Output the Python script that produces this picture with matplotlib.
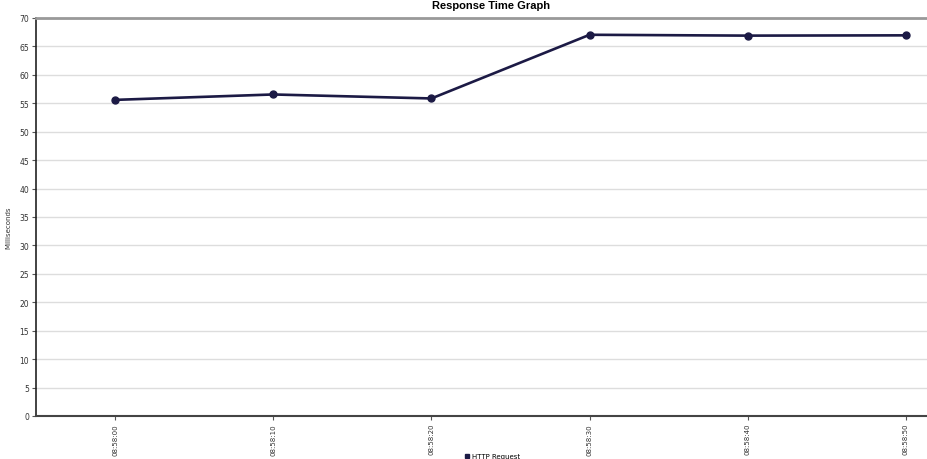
import matplotlib
matplotlib.use("Agg")
import matplotlib.pyplot as plt
from matplotlib.lines import Line2D

times = ["08:58:00", "08:58:10", "08:58:20", "08:58:30", "08:58:40", "08:58:50"]
response_ms = [55.6, 56.55, 55.85, 67.05, 66.9, 66.95]
yticks = list(range(0, 75, 5))

W, H = 927, 460
fig = plt.figure(figsize=(W / 100, H / 100), dpi=100)
left, right, top, bottom = 36, 985, 19, 417
ax = fig.add_axes([left / W, (H - bottom) / H, (right - left) / W, (bottom - top) / H])

x = list(range(len(times)))
line_color = "#1c1a45"
ax.plot(x, response_ms, color=line_color, lw=1.9, marker="o", ms=5, zorder=3)

ax.set_xlim(-0.5, len(times) - 0.5)
ax.set_ylim(0, 70)
ax.set_yticks(yticks)
ax.set_yticklabels([str(v) for v in yticks], fontsize=5.5, color="#333333")
ax.set_xticks(x)
ax.set_xticklabels(times, rotation=90, fontsize=5, color="#333333")
ax.grid(axis="y", color="#dddddd", lw=1)
ax.set_axisbelow(True)
ax.tick_params(axis="both", length=3, width=0.8, color="#555555", pad=2)

ax.spines["right"].set_visible(False)
ax.spines["top"].set_color("#999999")
ax.spines["top"].set_linewidth(2)
ax.spines["left"].set_color("#222222")
ax.spines["left"].set_linewidth(1.2)
ax.spines["bottom"].set_color("#444444")
ax.spines["bottom"].set_linewidth(1.5)

fig.text(491 / W, 1 - 6 / H, "Response Time Graph", ha="center", va="center",
         fontsize=8, fontweight="bold", family="Liberation Sans")
fig.text(8 / W, 1 - 228 / H, "Milliseconds", rotation=90, ha="center", va="center",
         fontsize=5, color="#333333")

handle = Line2D([], [], color=line_color, marker="s", ls="none", ms=3.5)
fig.legend([handle], ["HTTP Request"], loc="center", bbox_to_anchor=(492 / W, 1 - 457 / H),
           frameon=False, fontsize=5, handletextpad=0.3, handlelength=0.8)

fig.savefig("out.png", dpi=100)
